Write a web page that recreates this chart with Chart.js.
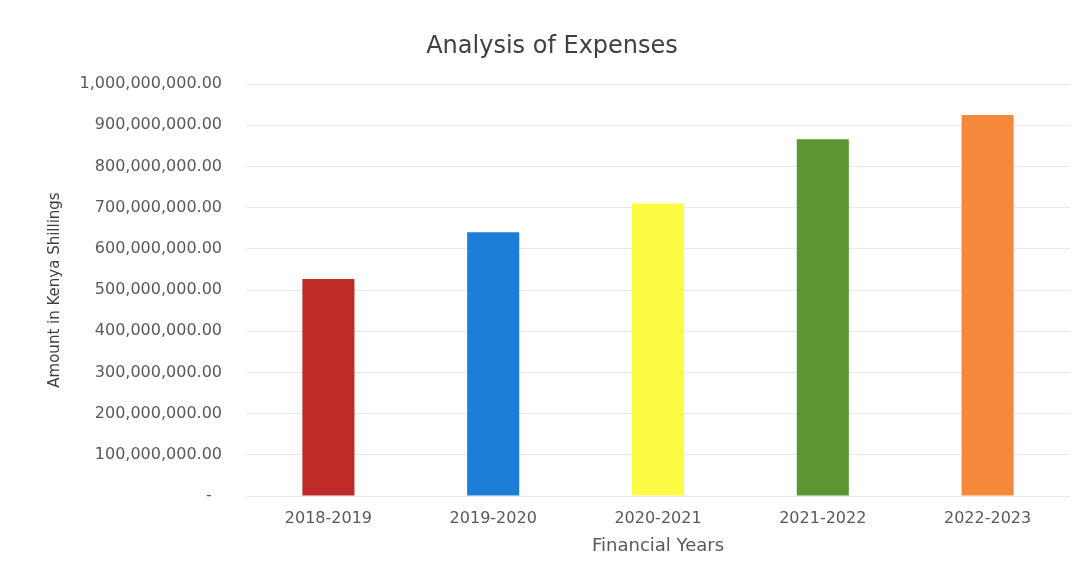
<!DOCTYPE html>
<html>
<head>
<meta charset="utf-8">
<title>Analysis of Expenses</title>
<script src="https://cdn.jsdelivr.net/npm/chart.js@4/dist/chart.umd.min.js"></script>
<style>
  html, body { margin: 0; padding: 0; background: #fff; }
  #wrap { width: 1077px; height: 572px; position: relative; }
</style>
</head>
<body>
<div id="wrap"><canvas id="expChart"></canvas></div>
<script>
// Financial years and total expenses (KES)
const years = ['2018-2019', '2019-2020', '2020-2021', '2021-2022', '2022-2023'];
const expenses = [527000000, 640000000, 710000000, 866000000, 925000000];
const barColors = ['#BF2C27', '#1C7ED7', '#FEFB45', '#5B9632', '#F5893B'];

const yMin = 0;
const yMax = 1000000000;
const yStep = 100000000;

const FONT = 'DejaVu Sans';

// accounting style: 2 decimals, dash for zero
function fmtAmount(v) {
  if (v === 0) return '-  ';
  return v.toLocaleString('en-US', { minimumFractionDigits: 2, maximumFractionDigits: 2 });
}

const ctx = document.getElementById('expChart').getContext('2d');
new Chart(ctx, {
  type: 'bar',
  data: {
    labels: years,
    datasets: [{
      label: 'Expenses',
      data: expenses,
      backgroundColor: barColors,
      borderWidth: 0,
      categoryPercentage: 1,
      barPercentage: 0.316
    }]
  },
  options: {
    responsive: true,
    maintainAspectRatio: false,
    animation: false,
    layout: { padding: { left: 34, right: 7, top: 0, bottom: 0 } },
    plugins: {
      legend: { display: false },
      tooltip: { enabled: false },
      title: {
        display: true,
        text: 'Analysis of Expenses',
        color: '#404040',
        font: { family: FONT, size: 24, weight: 'normal' },
        padding: { top: 32.6, bottom: 22.6 }
      }
    },
    scales: {
      x: {
        grid: { display: false, drawTicks: false },
        border: { display: false },
        ticks: {
          color: '#595959',
          font: { family: FONT, size: 16 },
          padding: 13.4,
          maxRotation: 0
        },
        title: {
          display: true,
          text: 'Financial Years',
          color: '#595959',
          font: { family: FONT, size: 18 },
          padding: { top: 0, bottom: 15.2 }
        },
        afterFit: s => { s.height = 76; }
      },
      y: {
        min: yMin,
        max: yMax,
        grid: { color: '#E8E8E8', lineWidth: 1, drawTicks: false },
        border: { display: false },
        ticks: {
          stepSize: yStep,
          color: '#595959',
          font: { family: FONT, size: 16 },
          padding: 24,
          callback: v => fmtAmount(v)
        },
        title: {
          display: true,
          text: 'Amount in Kenya Shillings',
          color: '#404040',
          font: { family: FONT, size: 15 },
          padding: { top: 12, bottom: 0 }
        },
        afterFit: s => { s.width = 212; }
      }
    }
  }
});
</script>
</body>
</html>
